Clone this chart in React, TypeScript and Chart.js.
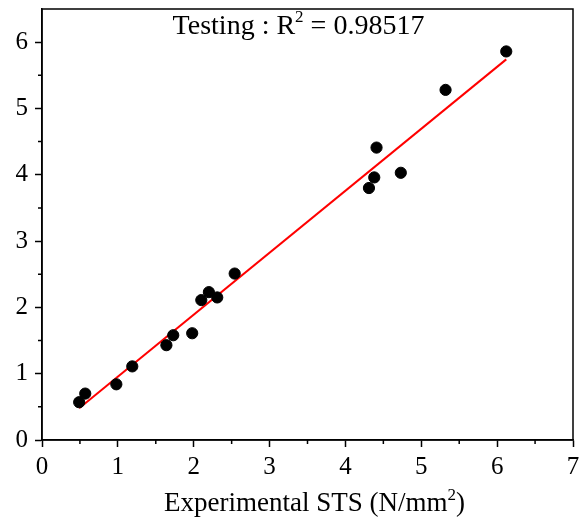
import React, { useEffect, useRef } from "react";
import { Chart, registerables } from "chart.js";

Chart.register(...registerables);

const experimental = [0.49, 0.57, 0.98, 1.19, 1.64, 1.73, 1.98, 2.10, 2.20, 2.31, 2.54, 4.31, 4.38, 4.41, 4.73, 5.32, 6.12];
const predicted = [0.57, 0.70, 0.84, 1.11, 1.43, 1.58, 1.61, 2.11, 2.23, 2.15, 2.51, 3.80, 3.96, 4.41, 4.03, 5.28, 5.86];
const fitX = [0.49, 6.12];
const fitY = [0.48, 5.74];
const annotationParts = ["Testing : R", "2", " = 0.98517"];
const xTitleParts = ["Experimental STS (N/mm", "2", ")"];

const FONT = "'Liberation Serif', 'Times New Roman', serif";

function drawSupText(ctx: any, parts: string[], cx: number, baseline: number, size: number, supSize: number, supRaise: number) {
  ctx.font = `${size}px ${FONT}`;
  const w0 = ctx.measureText(parts[0]).width;
  const w2 = ctx.measureText(parts[2]).width;
  ctx.font = `${supSize}px ${FONT}`;
  const w1 = ctx.measureText(parts[1]).width;
  const total = w0 + w1 + w2;
  let x = cx - total / 2;
  ctx.textAlign = "left";
  ctx.textBaseline = "alphabetic";
  ctx.font = `${size}px ${FONT}`;
  ctx.fillText(parts[0], x, baseline);
  x += w0;
  ctx.font = `${supSize}px ${FONT}`;
  ctx.fillText(parts[1], x, baseline - supRaise);
  x += w1;
  ctx.font = `${size}px ${FONT}`;
  ctx.fillText(parts[2], x, baseline);
}

const framePlugin = {
  id: "frame",
  afterDraw(chart: any) {
    const { ctx, chartArea } = chart;
    const { left, right, top, bottom } = chartArea;
    const xs = chart.scales.x;
    const ys = chart.scales.y;
    ctx.save();
    ctx.strokeStyle = "#000";
    ctx.lineWidth = 1.5;
    ctx.strokeRect(left, top, right - left, bottom - top);
    ctx.beginPath();
    xs.ticks.forEach((t: any) => {
      if (Math.abs(t.value % 1) > 1e-9) {
        const px = xs.getPixelForValue(t.value);
        ctx.moveTo(px, bottom);
        ctx.lineTo(px, bottom + 4);
      }
    });
    ys.ticks.forEach((t: any) => {
      if (Math.abs(t.value % 1) > 1e-9 && t.value < ys.max) {
        const py = ys.getPixelForValue(t.value);
        ctx.moveTo(left, py);
        ctx.lineTo(left - 4, py);
      }
    });
    ctx.stroke();
    ctx.fillStyle = "#000";
    drawSupText(ctx, annotationParts, (left + right) / 2 - 9, top + 25, 28, 17, 12);
    drawSupText(ctx, xTitleParts, (left + right) / 2 + 7, bottom + 71, 27, 17, 11);
    ctx.restore();
  },
};

export default function App() {
  const ref = useRef<HTMLCanvasElement | null>(null);
  useEffect(() => {
    document.body.style.margin = "0";
    const canvas = ref.current!;
    const isInt = (v: number) => Math.abs(v % 1) < 1e-9;
    const chart = new Chart(canvas, {
      type: "scatter",
      data: {
        datasets: [
          {
            label: "Testing",
            data: experimental.map((x, i) => ({ x, y: predicted[i] })),
            backgroundColor: "#000",
            borderColor: "#000",
            pointRadius: 5.6,
            pointHoverRadius: 5.6,
          },
          {
            type: "line",
            label: "Fit",
            data: fitX.map((x, i) => ({ x, y: fitY[i] })),
            borderColor: "#ff0000",
            borderWidth: 2,
            pointRadius: 0,
            showLine: true,
            fill: false,
          } as any,
        ],
      },
      options: {
        animation: false,
        responsive: false,
        maintainAspectRatio: false,
        layout: { padding: { top: 9, right: 13, left: 0, bottom: 0 } },
        plugins: { legend: { display: false }, tooltip: { enabled: false }, title: { display: false } },
        scales: {
          x: {
            type: "linear",
            min: 0,
            max: 7,
            afterFit: (s: any) => { s.height = 80; s.paddingLeft = 0; s.paddingRight = 0; },
            ticks: {
              stepSize: 0.5,
              color: "#000",
              font: { family: FONT, size: 25 },
              padding: 5,
              maxRotation: 0,
              autoSkip: false,
              callback: (v: any) => (isInt(Number(v)) ? String(v) : ""),
            },
            grid: {
              drawOnChartArea: false,
              drawTicks: true,
              tickLength: 7,
              tickWidth: 1.5,
              tickColor: (c: any) => (c.tick && isInt(c.tick.value) ? "#000" : "rgba(0,0,0,0)"),
            },
            border: { display: true, color: "#000", width: 1.5 },
          },
          y: {
            type: "linear",
            min: 0,
            max: 6.5,
            afterFit: (s: any) => { s.width = 42; s.paddingTop = 0; s.paddingBottom = 0; },
            ticks: {
              stepSize: 0.5,
              color: "#000",
              font: { family: FONT, size: 25 },
              padding: 7,
              autoSkip: false,
              callback: (v: any) => (isInt(Number(v)) ? String(v) : ""),
            },
            grid: {
              drawOnChartArea: false,
              drawTicks: true,
              tickLength: 7,
              tickWidth: 1.5,
              tickColor: (c: any) => (c.tick && isInt(c.tick.value) ? "#000" : "rgba(0,0,0,0)"),
            },
            border: { display: true, color: "#000", width: 1.5 },
          },
        },
      },
      plugins: [framePlugin],
    });
    return () => chart.destroy();
  }, []);
  return (
    <div style={{ width: 586, height: 520, background: "#fff" }}>
      <canvas ref={ref} width={586} height={520} style={{ display: "block" }} />
    </div>
  );
}
